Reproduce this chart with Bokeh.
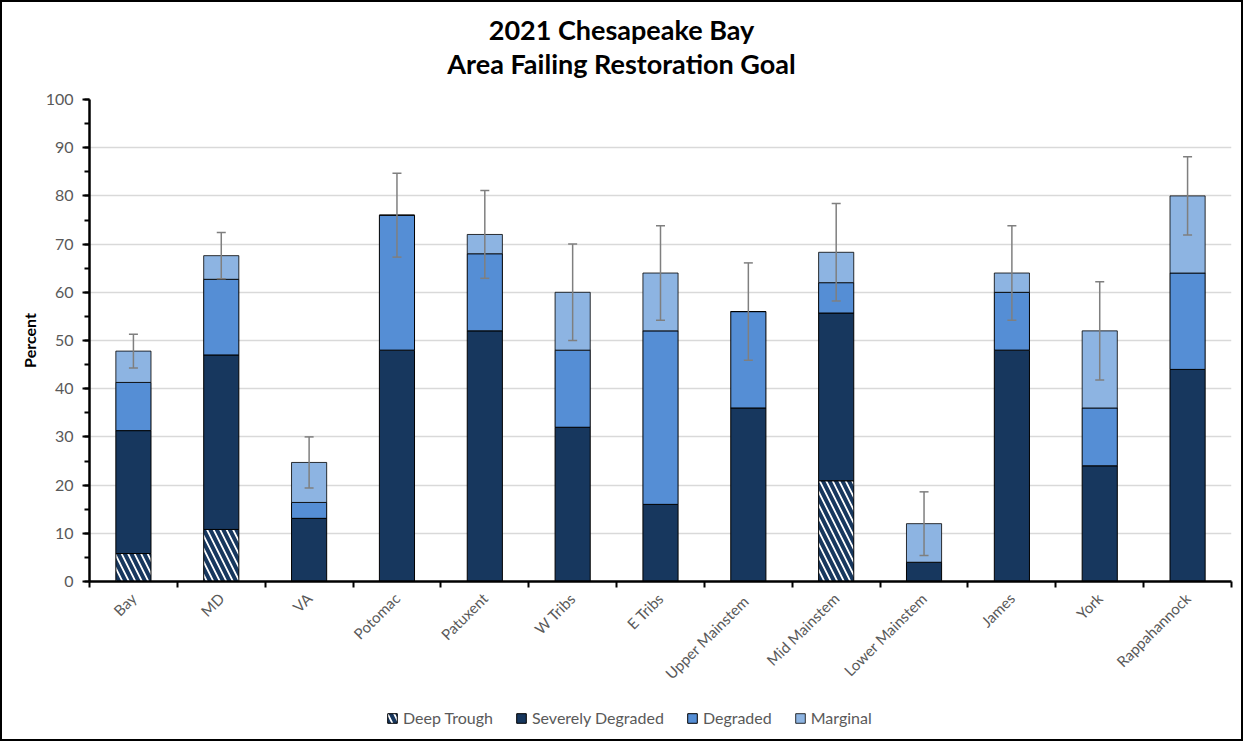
import numpy as np
from bokeh.plotting import figure
from bokeh.layouts import column
from bokeh.models import (Range1d, FixedTicker, SingleIntervalTicker, Whisker,
                          ColumnDataSource, Legend, LegendItem, Label, TeeHead)
from bokeh.embed import file_html
from bokeh.resources import INLINE

categories = ["Bay", "MD", "VA", "Potomac", "Patuxent", "W Tribs", "E Tribs",
              "Upper  Mainstem", "Mid Mainstem", "Lower Mainstem", "James",
              "York", "Rappahannock"]
deep_trough = [5.8, 10.8, 0, 0, 0, 0, 0, 0, 20.9, 0, 0, 0, 0]
severely_degraded = [25.5, 36.2, 13.1, 48, 52, 32, 16, 36, 34.8, 4, 48, 24, 44]
degraded = [10.0, 15.7, 3.3, 28, 16, 16, 36, 20, 6.3, 0, 12, 12, 20]
marginal = [6.5, 4.9, 8.3, 0, 4, 12, 12, 0, 6.3, 8, 4, 16, 16]
error = [3.5, 4.8, 5.3, 8.7, 9.1, 10.0, 9.8, 10.1, 10.1, 6.6, 9.8, 10.2, 8.1]
series_names = ["Deep Trough", "Severely Degraded", "Degraded", "Marginal"]
title_lines = ["2021 Chesapeake Bay", "Area Failing Restoration Goal"]
y_ticks = [0, 10, 20, 30, 40, 50, 60, 70, 80, 90, 100]

FONT = "Lato"
NAVY = "#17375e"
MID = "#558ed5"
LIGHT = "#8db4e2"
GRAY_TXT = "#595959"

n = len(categories)
x = np.arange(n) + 0.5
t0 = np.array(deep_trough, dtype=float)
t1 = t0 + np.array(severely_degraded)
t2 = t1 + np.array(degraded)
t3 = t2 + np.array(marginal)
err = np.array(error)

W = 1239
FRAME_W = 1142
TH = 80

# ---- title strip ----
tp = figure(width=W, height=TH, x_range=Range1d(0, FRAME_W), y_range=Range1d(0, TH),
            output_backend="svg", toolbar_location=None, title=None,
            x_axis_location=None, y_axis_location=None, min_border=0)
tp.outline_line_color = None
tp.xgrid.visible = False
tp.ygrid.visible = False
for txt, yy in zip(title_lines, [TH - 27, TH - 61]):
    tp.add_layout(Label(x=532, y=yy, text=txt, text_align="center",
                        text_baseline="middle", text_font=FONT,
                        text_font_size="27px", text_font_style="bold",
                        text_color="black"))

# ---- main chart ----
p = figure(width=W, height=624, x_range=Range1d(0, n), y_range=Range1d(0, 100),
           output_backend="svg", toolbar_location=None, title=None,
           min_border_left=87, min_border_right=10, min_border_top=17,
           min_border_bottom=125)
p.outline_line_color = None
p.background_fill_color = "white"
p.border_fill_color = "white"

src = ColumnDataSource(dict(x=x, t0=t0, t1=t1, t2=t2, t3=t3,
                            lo=t3 - err, hi=t3 + err))

bw = 0.4
deep_style = dict(fill_color="white", hatch_pattern="\\", hatch_color=NAVY,
                  hatch_scale=13, hatch_weight=4, line_color="black", line_width=1)
sev_style = dict(fill_color=NAVY, line_color="black", line_width=1)
deg_style = dict(fill_color=MID, line_color="black", line_width=1)
mar_style = dict(fill_color=LIGHT, line_color="black", line_width=1, line_alpha=0.8)
stack = [(0, "t0", deep_style), ("t0", "t1", sev_style),
         ("t1", "t2", deg_style), ("t2", "t3", mar_style)]

for b, t, st in stack:
    p.vbar(x="x", bottom=b, top=t, width=bw, source=src, **st)

wk = Whisker(base="x", lower="lo", upper="hi", source=src, level="annotation",
             line_color="#7f7f7f", line_width=1.5,
             upper_head=TeeHead(size=9, line_color="#7f7f7f", line_width=1.5),
             lower_head=TeeHead(size=9, line_color="#7f7f7f", line_width=1.5))
p.add_layout(wk)

# x axis
xa = p.xaxis[0]
xa.ticker = FixedTicker(ticks=list(x), minor_ticks=list(range(n + 1)))
xa.major_label_overrides = {float(xi): c for xi, c in zip(x, categories)}
xa.major_label_orientation = np.pi / 4
xa.major_tick_out = 0
xa.major_tick_in = 0
xa.minor_tick_out = 6
xa.minor_tick_in = 0
xa.minor_tick_line_color = "black"
xa.minor_tick_line_width = 2
xa.axis_line_color = "black"
xa.axis_line_width = 2.5
xa.major_label_text_font = FONT
xa.major_label_text_font_size = "15px"
xa.major_label_text_color = GRAY_TXT
xa.major_label_standoff = 8
p.xgrid.visible = False

# y axis
ya = p.yaxis[0]
ya.ticker = SingleIntervalTicker(interval=10, num_minor_ticks=2)
ya.major_tick_out = 7
ya.major_tick_in = 0
ya.minor_tick_out = 5
ya.minor_tick_in = 0
ya.major_tick_line_color = "black"
ya.minor_tick_line_color = "black"
ya.major_tick_line_width = 2
ya.minor_tick_line_width = 2
ya.axis_line_color = "black"
ya.axis_line_width = 2.5
ya.major_label_text_font = FONT
ya.major_label_text_font_size = "16px"
ya.major_label_text_color = GRAY_TXT
ya.major_label_standoff = 9
ya.axis_label = "Percent"
ya.axis_label_text_font = FONT
ya.axis_label_text_font_size = "16px"
ya.axis_label_text_font_style = "bold"
ya.axis_label_text_color = "black"
ya.axis_label_standoff = 4
p.ygrid.ticker = FixedTicker(ticks=y_ticks)
p.ygrid.grid_line_color = "#d9d9d9"
p.ygrid.grid_line_width = 1.5

# ---- legend strip (same series, hidden renderers, legend only) ----
lp = figure(width=W, height=33, x_range=Range1d(-100, -99), y_range=Range1d(-100, -99),
            output_backend="svg", toolbar_location=None, title=None,
            x_axis_location=None, y_axis_location=None, min_border=0)
lp.outline_line_color = None
lp.xgrid.visible = False
lp.ygrid.visible = False
items = []
for name, (b, t, st) in zip(series_names, stack):
    r = lp.vbar(x="x", bottom=b, top=t, width=bw, source=src, visible=False, **st)
    items.append(LegendItem(label=name, renderers=[r], index=0))
legend = Legend(items=items, orientation="horizontal", location=(297, 12),
                padding=0, margin=0, spacing=22, glyph_width=12, glyph_height=12,
                label_standoff=5, label_text_font=FONT, label_text_font_size="16px",
                label_text_color=GRAY_TXT, border_line_color=None,
                background_fill_alpha=0, inactive_fill_alpha=0)
lp.add_layout(legend, "center")

layout = column(tp, p, lp, spacing=0)
layout.styles = {"border": "2px solid black"}

open("out.html", "w").write(file_html(layout, INLINE))
